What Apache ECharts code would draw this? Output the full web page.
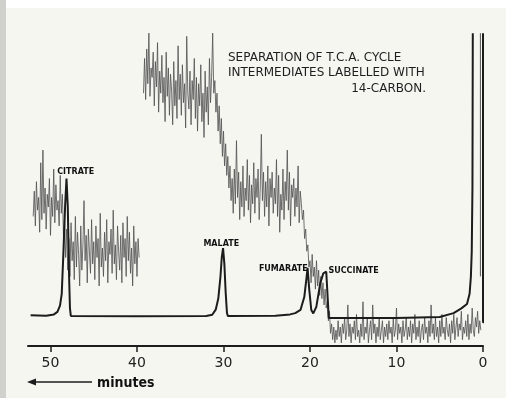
<!DOCTYPE html>
<html>
<head>
<meta charset="utf-8">
<script src="https://cdn.jsdelivr.net/npm/echarts@6/dist/echarts.min.js"></script>
<style>
html, body { margin: 0; padding: 0; background: #fff; }
#chart { width: 506px; height: 398px; }
</style>
</head>
<body>
<div id="chart"></div>
<script>
// Elution time axis (minutes, counted back from the end of the run)
const minuteTicks = [0, 10, 20, 30, 40, 50];

// Peak identities, apex times (min) and apex heights (detector units)
const peakNames = ['CITRATE', 'MALATE', 'FUMARATE', 'SUCCINATE'];
const peakTimes = [48.15, 30.05, 20.28, 18.12];
const peakHeights = [53, 31, 24.7, 23.5];

// Column effluent trace: [minutes, detector units]
const effluentTrace = [
  [52.3, 9.7], [50.5, 9.6], [49.6, 10.0], [49.2, 10.8], [48.9, 12.8], [48.7, 16.5],
  [48.5, 30], [48.3, 45], [48.15, 53], [48.0, 44], [47.85, 22], [47.75, 12], [47.65, 9.5],
  [40, 9.4], [32, 9.5], [31.3, 9.9], [30.9, 11.5], [30.6, 15], [30.35, 22], [30.2, 28],
  [30.05, 31], [29.9, 26], [29.75, 17], [29.6, 10.5], [29.5, 9.5],
  [24, 9.6], [22.3, 10.0], [21.7, 10.4], [21.1, 11.4], [20.66, 15.5], [20.43, 20.9],
  [20.28, 24.7], [20.08, 17.7], [19.85, 11.4], [19.62, 10.3], [19.27, 12.4], [18.81, 19.9],
  [18.46, 23], [18.12, 23.5], [17.94, 14.5], [17.83, 8.9], [17.6, 8.9],
  [10, 8.9], [5, 9.2], [3.4, 10.4], [2.5, 11.9], [1.85, 13.3], [1.55, 16.5], [1.4, 22],
  [1.3, 30], [1.22, 50], [1.18, 99]
];

// 14C count-rate recording, sampled every eighth of a minute (one row = one minute)
const countStep = 0.125;
const countStartA = 52.0;
const countsA = [
  41, 49, 38, 52, 43, 47, 36, 58,
  40, 62, 42, 50, 37, 48, 44, 53,
  35, 47, 41, 56, 39, 51, 43, 46,
  38, 54, 42, 48,
  35, 40, 28, 37,
  24, 34, 22, 39, 27, 33, 21, 41,
  25, 36, 29, 19, 38, 24, 32, 46,
  27, 35, 20, 37, 30, 23, 40, 26,
  33, 21, 38, 28, 34, 19, 42, 25,
  31, 22, 36, 27, 40, 20, 33, 29,
  37, 23, 43, 26, 32, 21, 38, 30,
  24, 35, 20, 39, 28, 34, 22, 41,
  27, 36, 23, 31, 19, 38, 26, 33,
  22, 34, 28
];
const countStartB = 39.25;
const countsB = [
  80, 91,
  78, 94, 83, 99, 79, 88, 85, 93,
  76, 90, 82, 96, 74, 87, 80, 92,
  77, 85, 71, 93, 79, 88, 73, 86,
  81, 70, 90, 76, 84, 72, 95, 78,
  86, 73, 89, 77, 83, 69, 98, 80,
  75, 87, 70, 84, 78, 91, 72, 85,
  68, 83, 76, 89, 71, 80, 66, 87,
  74, 82, 70, 91, 77, 85, 99, 80,
  84, 74, 80, 68, 76, 64, 72, 60,
  68, 57, 64, 54, 60, 50, 57, 46,
  53, 42, 56, 45, 65, 47, 55, 40,
  52, 44, 57, 41, 50, 46, 59, 43,
  54, 39, 51, 45, 58, 42, 53, 47,
  56, 40, 50, 67, 46, 55, 41, 52,
  44, 57, 38, 53, 47, 55, 42, 50,
  45, 59, 41, 54, 36, 48, 43, 56,
  40, 52, 46, 62, 43, 55, 38, 51,
  47, 53, 41, 50, 44, 57, 39, 49,
  45, 40, 43, 34, 37, 30, 32, 25,
  27, 20, 29, 22, 25, 18, 27, 19,
  24, 16, 22, 15, 20, 13, 18, 12,
  14, 8, 11, 4, 7, 2, 6, 1,
  5, 2, 8, 3, 6, 1, 7, 4,
  9, 2, 5, 13, 3, 7, 1, 6,
  4, 8, 2, 10, 3, 5, 1, 7,
  3, 14, 2, 6, 4, 9, 1, 5,
  8, 2, 13, 4, 7, 1, 6, 3,
  9, 2, 5, 8, 1, 6, 3, 7,
  2, 8, 4, 6, 1, 9, 3, 5,
  12, 2, 7, 4, 6, 1, 8, 3,
  5, 9, 2, 6, 3, 8, 1, 7,
  4, 10, 2, 6, 3, 8, 1, 5,
  7, 2, 9, 4, 6, 1, 8, 3,
  13, 4, 7, 2, 9, 3, 6, 1,
  8, 3, 10, 4, 6, 2, 9, 5,
  3, 7, 1, 8, 4, 10, 2, 6,
  9, 3, 7, 5, 11, 2, 6, 4,
  8, 3, 10, 2, 7, 4, 12, 5,
  3, 9, 6, 11, 4, 8, 5
];
// Pen strokes at the start of the record
const penReturn = [[0.3, 22], [0.3, 99]];
const penStart = [[0, 99], [0, 7.5], [-0.3, 7.5]];

const toPoints = (start, values) => values.map((v, i) => [start - i * countStep, v]);

const ink = '#1c1c1c';
const countStyle = { color: '#4f4f4f', width: 0.8 };

const chart = echarts.init(document.getElementById('chart'), null, { renderer: 'canvas' });
chart.setOption({
  animation: false,
  backgroundColor: '#f5f6f0',
  grid: { left: 28, right: 23, top: 30, bottom: 52 },
  xAxis: {
    type: 'value',
    inverse: true,
    min: 0,
    max: 52.6,
    interval: 10,
    axisLine: { lineStyle: { color: ink, width: 2 } },
    axisTick: { customValues: minuteTicks, length: 6, lineStyle: { color: ink, width: 1.5 } },
    axisLabel: {
      customValues: minuteTicks,
      margin: 10,
      fontSize: 14,
      color: '#222',
      fontFamily: '"DejaVu Sans", sans-serif'
    },
    splitLine: { show: false }
  },
  yAxis: { type: 'value', min: 0, max: 100, show: false },
  series: [
    {
      type: 'line', data: toPoints(countStartA, countsA), showSymbol: false,
      lineStyle: countStyle, z: 2
    },
    {
      type: 'line', data: toPoints(countStartB, countsB), showSymbol: false,
      lineStyle: countStyle, z: 2
    },
    {
      type: 'line', data: penReturn, showSymbol: false,
      lineStyle: { color: '#555', width: 1 }, z: 2
    },
    {
      type: 'line', data: penStart, showSymbol: false, clip: false,
      lineStyle: { color: ink, width: 2 }, z: 3
    },
    {
      type: 'line', data: effluentTrace, showSymbol: false,
      lineStyle: { color: ink, width: 2 }, z: 4,
      markPoint: {
        symbol: 'circle',
        symbolSize: 0,
        label: {
          show: true,
          position: 'inside',
          color: '#111',
          fontSize: 8,
          fontWeight: 'bold',
          fontFamily: '"DejaVu Sans", sans-serif'
        },
        data: peakNames.map((name, i) => ({
          name: name,
          coord: [peakTimes[i], peakHeights[i]],
          label: {
            formatter: name,
            offset: [[9.2, -6.5], [-1.8, -4], [-24.3, 0.5], [27.3, -0.5]][i]
          }
        }))
      }
    }
  ],
  graphic: [
    { type: 'rect', shape: { x: 0, y: 0, width: 6, height: 398 }, style: { fill: '#d0d1cd' } },
    { type: 'rect', shape: { x: 6, y: 0, width: 500, height: 8 }, style: { fill: '#ffffff' } },
    {
      type: 'text', x: 228, y: 58,
      style: { text: 'SEPARATION OF T.C.A. CYCLE', fill: '#1e1e1e', font: '12px "DejaVu Sans"', textVerticalAlign: 'middle' }
    },
    {
      type: 'text', x: 228, y: 73,
      style: { text: 'INTERMEDIATES LABELLED WITH', fill: '#1e1e1e', font: '12px "DejaVu Sans"', textVerticalAlign: 'middle' }
    },
    {
      type: 'text', x: 426, y: 89,
      style: { text: '14-CARBON.', fill: '#1e1e1e', font: '12px "DejaVu Sans"', textAlign: 'right', textVerticalAlign: 'middle' }
    },
    { type: 'line', shape: { x1: 33, y1: 382, x2: 92, y2: 382 }, style: { stroke: ink, lineWidth: 1.4 } },
    { type: 'polygon', shape: { points: [[27, 382], [36, 378.5], [36, 385.5]] }, style: { fill: ink } },
    {
      type: 'text', x: 97, y: 383,
      style: { text: 'minutes', fill: '#111', font: 'bold 14px "DejaVu Sans Condensed", "DejaVu Sans"', textVerticalAlign: 'middle' }
    }
  ]
});
</script>
</body>
</html>
